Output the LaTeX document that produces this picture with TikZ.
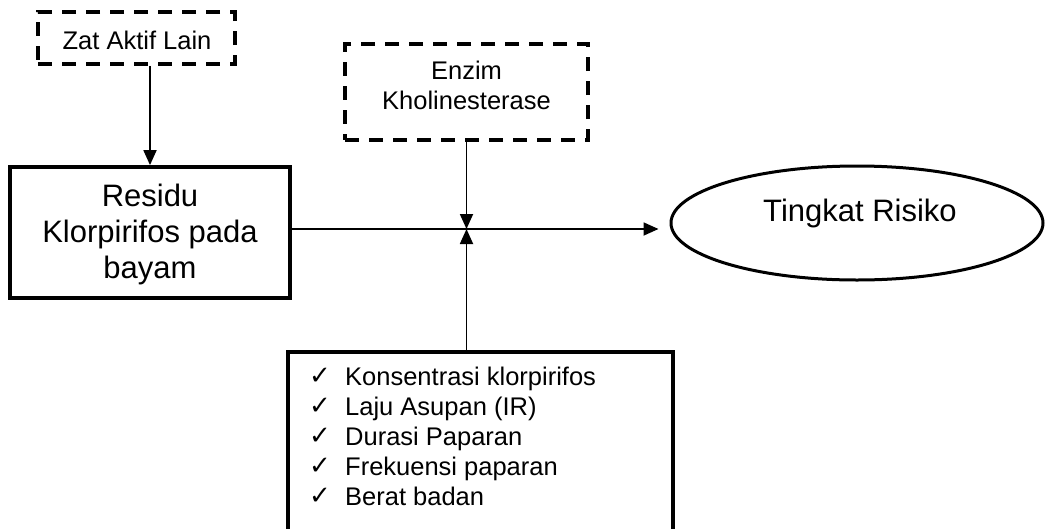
\documentclass[tikz,border=0pt]{standalone}
\usepackage{fontspec}
\setmainfont{Liberation Sans}
\newfontfamily\symfont{DejaVu Sans}
\usetikzlibrary{arrows.meta,shapes.geometric}
\tikzset{
  dashbox/.style={draw, line width=3.6pt, dash pattern=on 14pt off 10pt, inner sep=0pt, rectangle},
  solidbox/.style={draw, line width=3.8pt, inner sep=0pt, rectangle},
  txt/.style={inner sep=0pt, align=center},
  smalltxt/.style={txt, font=\fontsize{25.5}{30}\selectfont},
  bigtxt/.style={txt, font=\fontsize{31}{36}\selectfont},
  itemtxt/.style={inner sep=0pt, anchor=base west, font=\fontsize{25.5}{30}\selectfont},
  checktxt/.style={inner sep=0pt, anchor=base west, font=\symfont\fontsize{26}{30}\selectfont},
  conn/.style={line width=1.8pt, -{Triangle[length=15pt,width=13pt]}}
}
\begin{document}
\begin{tikzpicture}[x=1pt,y=-1pt]
\useasboundingbox (0,0) rectangle (1045,528);
\clip (0,0) rectangle (1045,528);
% boxes
\node[dashbox, minimum width=197pt, minimum height=52pt] (zat) at (136.5,38) {};
\node[smalltxt] (zatt) at (137,40) {Zat Aktif Lain};
\node[dashbox, minimum width=243pt, minimum height=96pt] (enz) at (466.5,92) {};
\node[smalltxt] (enzt) at (466.5,85) {Enzim\\Kholinesterase};
\node[solidbox, minimum width=280pt, minimum height=131pt] (res) at (150,232.5) {};
\node[bigtxt] (rest) at (150,234) {Residu\\Klorpirifos pada\\bayam};
\node[draw, ellipse, line width=3pt, minimum width=372pt, minimum height=114pt, inner sep=0pt] (ell) at (857,223) {};
\node[bigtxt] (ellt) at (860,213) {Tingkat Risiko};
\node[solidbox, line width=3.4pt, minimum width=385pt, minimum height=220pt] (chk) at (480.5,462) {};
% checklist items
\foreach \i/\t in {0/Konsentrasi klorpirifos,1/Laju Asupan (IR),2/Durasi Paparan,3/Frekuensi paparan,4/Berat badan}{
  \node[checktxt] (c\i) at (309,384+30*\i) {✓};
  \node[itemtxt] (t\i) at (345,385+30*\i) {\t};
}
% junction
\coordinate (J) at (466.5,229);
% connectors
\draw[conn] (res.north |- zat.south) -- (res.north);
\draw[conn] (enz.south) -- (J);
\draw[conn] (J |- chk.north) -- (J);
\draw[conn, shorten >=11pt] (res.east |- J) -- (J -| ell.west);
\end{tikzpicture}
\end{document}
